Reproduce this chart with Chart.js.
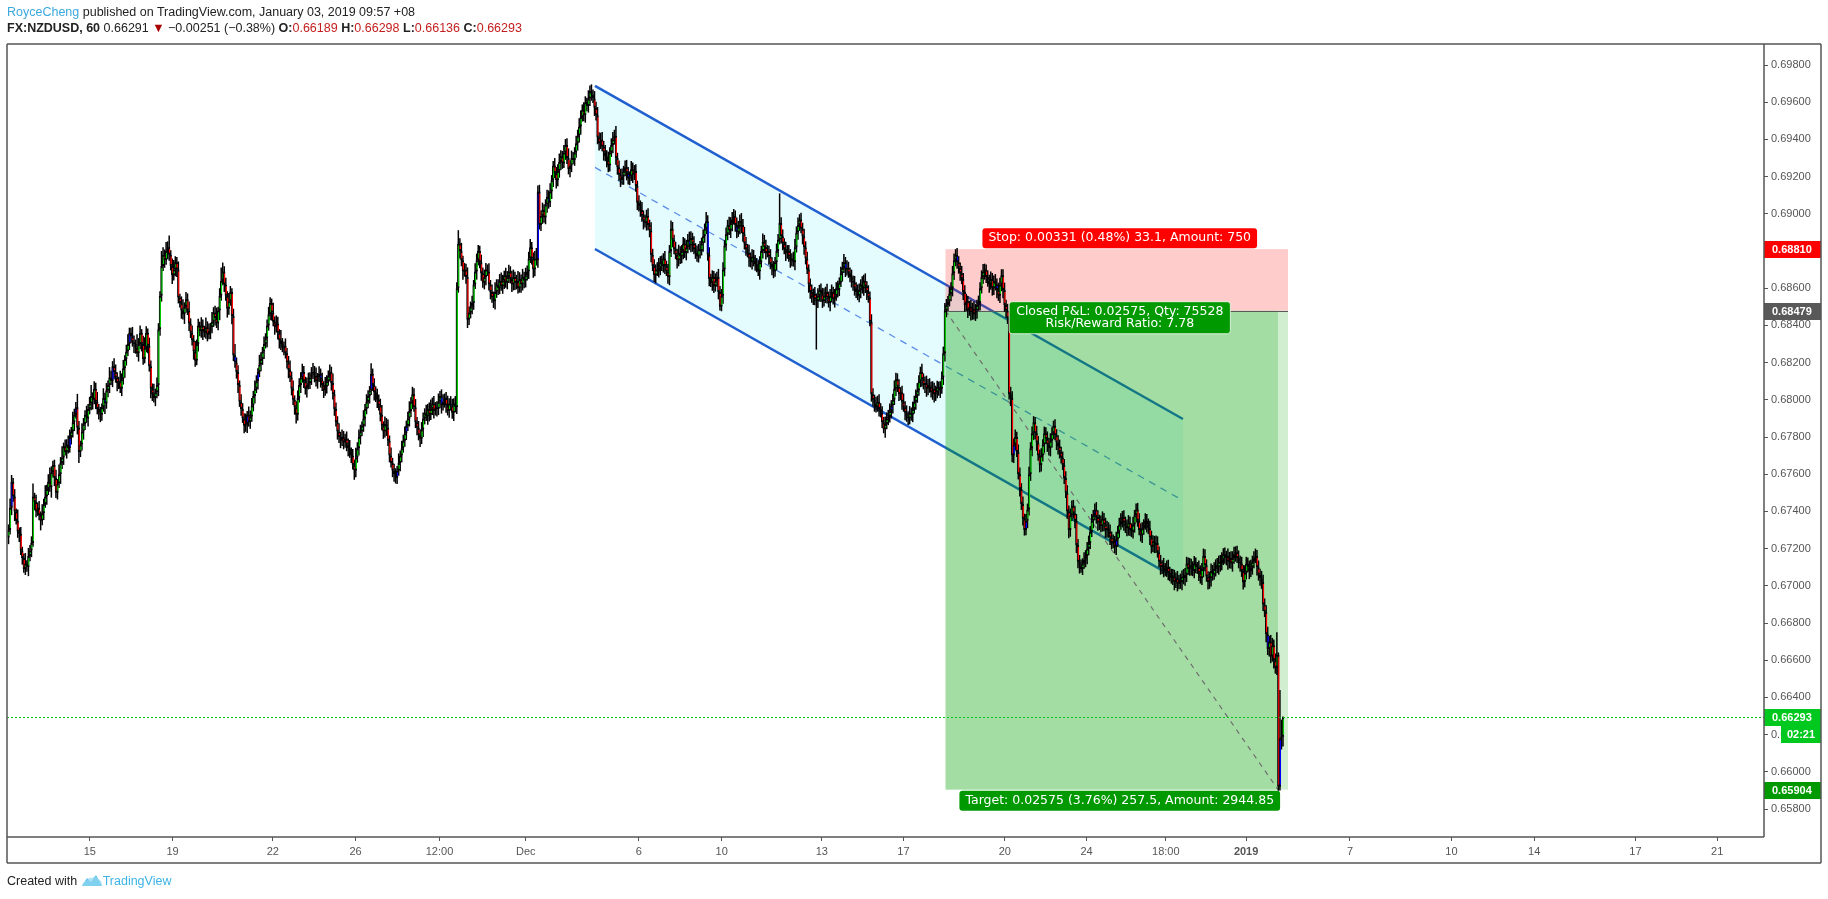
<!DOCTYPE html>
<html><head><meta charset="utf-8">
<script src="https://cdn.jsdelivr.net/npm/chart.js@4.4.1/dist/chart.umd.min.js"></script>
<style>
html,body{margin:0;padding:0;background:#fff;}
#wrap{position:relative;width:1828px;height:899px;overflow:hidden;}
#c{position:absolute;left:0;top:0;}
.hdr{position:absolute;left:7px;font-family:'Liberation Sans',Arial,sans-serif;font-size:12.5px;color:#222;white-space:nowrap;line-height:16px;}
.b{font-weight:bold;}
.r{color:#c41e1e;}
</style>
</head><body><div id="wrap"><canvas id="c"></canvas>
<div class="hdr" style="top:4px"><span style="color:#3aa8de">RoyceCheng</span> published on TradingView.com, January 03, 2019 09:57 +08</div>
<div class="hdr" style="top:20px"><span class="b">FX:NZDUSD, 60</span> 0.66291 <span style="color:#a80000">&#9660;</span> &minus;0.00251 (&minus;0.38%) <span class="b">O:</span><span class="r">0.66189</span> <span class="b">H:</span><span class="r">0.66298</span> <span class="b">L:</span><span class="r">0.66136</span> <span class="b">C:</span><span class="r">0.66293</span></div>
<div class="hdr" style="top:873px;font-size:12.5px">Created with <svg width="22" height="14" viewBox="0 0 22 14" style="vertical-align:-2px"><path d="M1 13 L6 5 L10 9 L15 2 L21 13 Z" fill="#5fc2ec"/><path d="M1 13 Q2 8 6 8 Q7 4 11 5 Q14 2 17 6 Q21 7 21 13 Z" fill="#8fd5f2" opacity="0.7"/></svg><span style="color:#3cb4e6">TradingView</span></div>
</div>
<script>
// ---------- DATA ----------
// closes in points (1 point = 0.00001); wicks in units of 0.00002
const POINT = 1e-5;
const WICK_UNIT = 2e-5;
const firstOpen = 67260;
const closes = [
67300,67420,67560,67480,67400,67350,67290,67280,67190,67150,
67090,67120,67100,67160,67190,67230,67480,67450,67400,67420,
67380,67350,67390,67440,67480,67520,67560,67530,67610,67650,
67580,67500,67550,67600,67660,67690,67750,67720,67760,67740,
67800,67830,67880,67920,67960,67850,67720,67760,67830,67870,
67920,67900,67950,67980,68020,68000,68060,67990,67950,67930,
67920,67960,68010,67980,68050,68080,68120,68100,68180,68150,
68120,68090,68100,68060,68110,68170,68220,68260,68300,68360,
68340,68310,68300,68280,68250,68300,68360,68300,68220,68280,
68360,68290,68180,68060,68030,68010,68040,68080,68380,68560,
68720,68780,68750,68800,68820,68780,68720,68670,68700,68740,
68700,68550,68520,68480,68460,68500,68540,68480,68410,68360,
68320,68260,68210,68300,68400,68370,68400,68370,68360,68390,
68350,68370,68390,68420,68470,68440,68410,68480,68560,68640,
68690,68620,68560,68490,68530,68580,68450,68240,68200,68150,
68080,67990,67950,67900,67860,67870,67920,67880,67910,67970,
68020,68060,68100,68150,68190,68220,68260,68300,68330,68400,
68460,68520,68470,68420,68390,68410,68360,68320,68300,68280,
68290,68250,68200,68160,68120,68060,68000,67960,67920,68010,
68080,68120,68150,68100,68060,68080,68090,68120,68140,68150,
68130,68100,68120,68140,68110,68080,68050,68070,68100,68130,
68150,68090,68030,67950,67880,67830,67800,67780,67800,67770,
67790,67760,67740,67720,67700,67650,67620,67690,67740,67800,
67830,67860,67900,67950,67990,68020,68050,68140,68080,68040,
68020,68000,67970,67920,67860,67830,67870,67850,67780,67700,
67660,67620,67600,67580,67620,67660,67700,67740,67780,67820,
67860,67900,67940,67990,68030,67960,67880,67850,67810,67790,
67840,67900,67930,67910,67950,67920,67950,67980,67940,67960,
67950,67990,68020,67970,67990,68010,67970,67940,67980,67970,
67930,67980,67960,68600,68840,68800,68750,68690,68700,68660,
68430,68470,68500,68520,68620,68690,68750,68800,68740,68680,
68630,68660,68700,68690,68620,68580,68550,68530,68580,68620,
68600,68640,68610,68640,68670,68630,68660,68690,68650,68620,
68660,68630,68640,68600,68650,68620,68660,68640,68670,68690,
68760,68820,68760,68700,68760,68750,69120,68940,68990,69020,
68980,69050,69090,69060,69120,69180,69260,69220,69180,69230,
69280,69310,69270,69330,69370,69300,69240,69260,69300,69290,
69330,69380,69420,69470,69520,69560,69530,69600,69580,69620,
69660,69640,69620,69570,69530,69410,69380,69400,69360,69330,
69310,69290,69260,69330,69370,69400,69420,69300,69250,69210,
69180,69200,69230,69250,69220,69190,69200,69240,69210,69230,
69150,69060,69040,69020,68990,68960,68950,68990,68940,68910,
68780,68720,68670,68700,68690,68710,68740,68720,68760,68720,
68690,68660,68800,68920,68860,68810,68780,68750,68790,68770,
68800,68840,68790,68820,68860,68830,68870,68840,68810,68790,
68770,68810,68800,68840,68880,68920,68960,68780,68650,68630,
68660,68610,68640,68660,68580,68500,68560,68700,68830,68890,
68940,68910,68950,68970,68990,68940,68900,68930,68960,68940,
68890,68840,68810,68790,68760,68740,68770,68750,68730,68710,
68690,68740,68800,68850,68820,68790,68800,68770,68730,68710,
68690,68740,68800,68860,68950,68880,68840,68810,68790,68800,
68770,68750,68760,68740,68820,68900,68940,68970,68920,68880,
68820,68760,68700,68620,68580,68550,68570,68540,68530,68560,
68590,68570,68530,68560,68580,68550,68520,68560,68580,68540,
68560,68600,68590,68630,68680,68710,68740,68700,68710,68680,
68660,68640,68630,68600,68580,68560,68590,68620,68600,68640,
68610,68580,68550,68420,68030,68000,67980,67960,67990,67950,
67930,67880,67840,67870,67900,67910,67940,67970,68000,68060,
68110,68070,68030,68040,67990,67960,67930,67910,67900,67930,
67920,67950,67990,68020,68050,68100,68150,68110,68080,68090,
68060,68080,68070,68040,68060,68030,68040,68070,68050,68060,
68120,68250,68480,68510,68530,68570,68600,68680,68750,68780,
68740,68710,68680,68650,68580,68510,68530,68480,68500,68470,
68490,68460,68480,68510,68520,68600,68660,68690,68700,68660,
68640,68620,68650,68600,68640,68620,68590,68560,68620,68670,
68590,68510,68480,68440,68030,68010,67700,67760,67800,67720,
67600,67520,67440,67360,67300,67350,67410,67600,67740,67820,
67880,67820,67770,67700,67650,67700,67760,67820,67790,67760,
67740,67780,67820,67860,67810,67770,67750,67720,67690,67650,
67580,67500,67400,67300,67380,67430,67390,67350,67220,67130,
67110,67090,67120,67140,67160,67200,67230,67290,67350,67380,
67410,67370,67340,67350,67320,67360,67330,67300,67310,67290,
67260,67230,67240,67210,67250,67290,67330,67350,67370,67340,
67320,67310,67340,67300,67290,67330,67380,67410,67350,67300,
67270,67310,67330,67350,67330,67310,67260,67210,67240,67220,
67230,67180,67130,67100,67110,67090,67080,67100,67070,67060,
67040,67050,67020,67040,67010,67030,67020,67050,67040,67060,
67120,67090,67110,67100,67080,67120,67100,67100,67070,67040,
67090,67160,67110,67050,67020,67040,67080,67060,67090,67110,
67100,67130,67120,67140,67170,67150,67160,67130,67150,67120,
67150,67170,67180,67150,67130,67120,67080,67020,67070,67120,
67100,67080,67100,67130,67150,67160,67100,67060,67040,67020,
66900,66860,66740,66660,66700,66620,66680,66600,66560,66630,
65920,66180,66189,66293
];
const wickUp = [
15,25,18,10,20,8,30,12,18,10, 12,28,9,22,15,18,35,10,20,14, 18,10,24,14,30,12,20,38,16,11, 14,22,12,26,16,30,10,18,14,24,
20,12,28,16,14,36,18,10,22,16, 12,24,14,18,30,10,20,16,26,14, 16,10,26,14,20,12,28,18,14,22, 20,14,12,28,16,22,10,18,26,14,
14,26,18,12,36,16,20,10,22,28, 18,12,22,16,14,28,10,20,16,12, 40,20,14,24,16,32,12,20,26,16, 14,22,10,18,30,12,20,16,24,14,
20,14,28,12,18,10,22,16,14,26, 16,20,12,26,14,18,28,10,20,36, 24,14,18,12,22,16,10,20,30,14, 18,12,20,16,14,28,10,22,16,20,
14,22,16,10,26,18,12,20,14,16, 20,16,12,26,14,22,18,10,28,16, 12,20,14,18,26,16,22,12,16,20, 18,14,22,16,12,20,28,14,18,24,
16,22,12,20,14,18,10,26,16,14, 20,14,26,12,18,16,22,14,20,16, 14,20,16,22,12,18,14,26,16,20, 18,12,22,14,20,16,12,28,14,18,
16,20,14,18,26,12,20,16,22,14, 22,14,18,16,12,26,14,20,16,18, 14,18,26,12,20,16,22,14,18,16, 20,16,12,22,14,18,26,16,20,14,
16,22,14,18,20,12,16,26,14,20, 18,14,20,16,36,14,22,12,18,16, 26,16,14,20,12,22,18,16,14,20, 16,20,18,14,22,12,20,16,26,14,
14,18,22,16,12,20,16,18,14,22, 20,14,16,26,18,12,22,14,20,16, 18,22,14,16,20,28,16,18,14,20, 16,14,20,18,22,14,12,20,16,18,
22,16,14,20,16,18,26,14,20,16, 14,20,16,22,18,14,20,16,12,22, 15,18,14,20,16,22,14,18,20,16, 20,16,22,14,18,20,16,26,14,18,
16,22,14,18,20,16,14,22,18,16, 18,14,20,16,22,14,18,16,20,14, 22,16,18,14,20,26,16,18,14,20, 14,20,16,22,18,14,20,16,22,18,
16,18,14,20,16,22,18,14,20,16, 20,14,22,16,18,14,25,16,20,14, 18,16,20,14,22,16,18,20,14,18, 14,22,16,20,18,14,20,16,18,22,
16,20,18,14,22,16,20,18,14,16, 20,16,14,22,18,20,16,14,20,18, 18,14,20,16,80,16,18,14,20,16, 16,20,14,18,22,16,20,14,18,16,
20,16,18,14,16,20,14,18,16,20, 14,18,16,20,14,22,16,18,20,14, 18,16,20,14,18,16,22,14,20,16, 16,20,14,18,16,20,18,14,22,16,
20,14,18,16,20,16,14,18,16,20, 16,18,14,20,16,18,20,14,16,22, 18,16,20,14,18,22,16,20,14,18, 14,20,16,18,20,16,14,22,16,18,
20,16,18,14,20,16,18,16,14,20, 16,18,20,16,14,18,16,20,18,15, 18,16,14,20,16,18,20,14,16,18, 16,20,18,14,20,16,18,20,16,14,
18,16,20,16,14,18,16,20,18,16, 16,20,14,18,16,20,18,16,20,14, 20,18,16,20,14,18,16,20,16,18, 16,14,20,18,16,20,14,18,16,20,
18,20,16,14,18,16,20,18,14,16, 16,18,20,16,18,14,16,20,18,16, 18,16,14,20,16,18,20,16,18,14, 16,20,18,16,14,20,16,18,20,16,
20,16,18,14,20,16,18,20,16,18, 16,18,20,16,18,20,14,16,18,20, 18,16,14,20,18,16,20,18,16,14, 20,18,16,18,14,20,16,18,20,16,
16,20,18,16,20,14,18,16,20,18, 18,16,20,18,16,20,16,14,18,20, 16,20,18,16,14,18,20,16,18,16, 20,16,18,20,16,18,14,20,16,18,
18,20,16,18,20,16,18,16,20,18, 16,18,20,16,18,20,16,18,16,20, 20,16,18,20,16,18,20,16,18,60,
6,130,45.5,2.5
];
const wickDn = [
18,12,20,14,26,10,16,22,12,18, 10,16,12,24,14,18,10,22,16,12, 14,26,12,18,10,22,16,12,28,14, 22,14,18,12,26,16,20,10,18,14,
12,20,16,24,10,18,30,14,16,22, 16,12,22,14,18,26,12,20,14,18, 20,16,12,28,14,18,22,10,16,20, 14,22,16,12,20,14,26,18,12,16,
18,12,24,16,10,22,14,20,16,12, 12,20,14,26,18,12,22,16,30,18, 16,14,20,12,22,16,12,24,14,18, 20,16,12,22,14,26,16,12,20,14,
14,22,16,12,20,14,18,24,12,16, 18,12,22,16,14,20,12,18,26,14, 12,20,14,24,16,12,22,16,14,18, 22,14,18,12,20,16,24,12,18,14,
16,20,12,22,14,18,16,20,12,24, 14,16,22,12,20,14,18,22,16,12, 20,14,16,22,12,18,14,20,24,16, 12,22,14,18,16,24,12,16,20,14,
18,14,20,12,22,16,20,14,18,12, 16,20,14,18,12,22,16,20,14,18, 14,18,22,16,20,12,25,18,14,20, 20,12,16,22,14,18,20,12,16,22,
16,22,14,18,12,20,16,22,14,18, 12,18,20,15,16,14,22,18,12,16, 18,14,22,16,20,12,16,20,14,22, 14,20,16,12,22,18,14,16,20,12,
20,16,18,22,14,16,20,12,18,14, 16,22,14,18,12,20,16,22,14,18, 22,14,16,20,18,12,22,14,16,20, 14,18,22,12,16,20,14,18,22,16,
18,16,12,20,22,14,18,16,12,20, 16,20,18,14,12,22,16,20,18,14, 20,12,16,22,18,14,20,12,16,22, 14,18,22,16,12,20,18,14,22,16,
18,22,14,12,20,16,14,22,18,12, 16,14,20,18,22,12,16,20,14,18, 20,16,12,22,14,18,20,16,12,22, 14,20,18,16,12,22,14,18,20,16,
18,12,22,14,20,16,18,12,22,14, 16,20,14,18,16,22,12,20,14,18, 20,14,18,22,12,16,20,14,18,22, 12,18,22,16,20,14,12,22,16,20,
18,22,14,20,16,12,18,22,14,16, 14,16,20,12,22,18,14,16,20,12, 22,18,14,16,20,10,12,22,18,14, 16,12,20,22,14,18,16,12,20,22,
20,16,18,12,22,14,20,16,18,12, 12,22,14,20,16,18,12,22,14,20, 18,14,22,16,12,20,18,14,22,16, 14,20,16,12,22,14,20,16,12,22,
20,16,12,22,18,14,20,16,130,18, 16,22,18,14,20,16,12,22,18,14, 22,14,20,16,12,22,14,20,16,12, 14,18,22,20,16,12,18,22,14,20,
18,22,14,12,20,18,22,14,12,20, 12,16,10,22,14,18,16,20,22,14, 20,14,18,16,22,12,20,14,18,16, 16,20,12,22,18,14,16,20,12,22,
22,18,16,14,20,22,18,16,14,20, 14,20,22,18,16,14,20,22,18,16, 18,16,20,14,22,18,16,20,14,22, 20,14,18,22,16,20,14,18,22,16,
16,22,14,20,18,16,22,14,20,18, 22,18,20,16,14,22,18,20,16,14, 14,20,16,18,15,14,20,16,18,22, 18,16,22,14,20,18,16,22,14,20,
20,22,18,16,14,20,22,18,16,14, 16,14,20,22,18,16,14,20,22,18, 22,10,16,14,20,22,18,16,14,20, 14,18,22,20,16,14,18,22,20,16,
20,16,14,18,22,20,16,14,18,22, 18,22,20,16,14,18,22,20,16,14, 16,20,18,14,22,16,20,18,14,22, 22,14,16,20,18,22,14,16,20,18,
14,18,22,16,20,14,18,22,16,20, 20,16,18,22,14,20,16,18,22,14, 18,22,16,14,20,18,22,16,14,20, 16,20,22,18,14,16,20,22,18,14,
22,16,20,14,18,22,16,20,14,18, 14,22,16,20,18,14,22,16,20,18, 18,14,22,16,20,18,14,22,16,20,
11,10,30,26.5
];
const blueBars = [3,41,45,64,69,80,129,149,157,164,193,205,225,238,242,255,261,284,347,354,382,391,406,446,458,477,513,529,548,578,603,621,647,658,666,711,725,758,762,788,824,832];
const priceTicks = [0.658,0.660,0.662,0.664,0.666,0.668,0.670,0.672,0.674,0.676,0.678,0.680,0.682,0.684,0.686,0.688,0.690,0.692,0.694,0.696,0.698];
const timeTickPos = [54.1,108.2,173.7,227.8,282.7,339.1,413.0,467.1,532.6,585.9,652.2,705.6,757.4,809.9,877.8,944.1,998.2,1064.4,1117.8];
const timeTickLabels = ['15','19','22','26','12:00','Dec','6','10','13','17','20','24','18:00','2019','7','10','14','17','21'];
const channelTop = [384.3, 0.69688, 768.6, 0.67897];
const channelBottom = [384.3, 0.68811, 768.6, 0.67020];
const entryPrice = 0.68479, stopPrice = 0.68810, targetPrice = 0.65904, lastPrice = 0.66293;
const positionBars = [613.4, 830.8, 837.3];
const stopText = 'Stop: 0.00331 (0.48%) 33.1, Amount: 750';
const pnlText = ['Closed P&L: 0.02575, Qty: 75528', 'Risk/Reward Ratio: 7.78'];
const targetText = 'Target: 0.02575 (3.76%) 257.5, Amount: 2944.85';
const countdownText = '02:21';

// ---------- build candles ----------
const wickSet = [], bodySet = [], bodyColors = [];
for (let i = 0; i < closes.length; i++) {
  const o = (i === 0 ? firstOpen : closes[i - 1]) * POINT;
  const c = closes[i] * POINT;
  const top = Math.max(o, c), bot = Math.min(o, c);
  wickSet.push({x: i + 1, y: [bot - wickDn[i] * WICK_UNIT, top + wickUp[i] * WICK_UNIT]});
  bodySet.push({x: i + 1, y: [bot, top]});
  bodyColors.push(blueBars.includes(i + 1) ? '#0000ff' : (c >= o ? '#00c800' : '#ff0000'));
}

function roundRect(ctx, x, y, w, h, r) {
  ctx.beginPath();
  ctx.moveTo(x + r, y); ctx.lineTo(x + w - r, y); ctx.quadraticCurveTo(x + w, y, x + w, y + r);
  ctx.lineTo(x + w, y + h - r); ctx.quadraticCurveTo(x + w, y + h, x + w - r, y + h);
  ctx.lineTo(x + r, y + h); ctx.quadraticCurveTo(x, y + h, x, y + h - r);
  ctx.lineTo(x, y + r); ctx.quadraticCurveTo(x, y, x + r, y); ctx.closePath();
}

const LABEL_FONT = '12.5px "DejaVu Sans", Verdana, sans-serif';

const drawings = {
  id: 'drawings',
  beforeDatasetsDraw(chart) {
    const {ctx, chartArea: a, scales: {x, y}} = chart;
    const X = v => x.getPixelForValue(v), Y = p => y.getPixelForValue(p);
    ctx.save();
    ctx.beginPath(); ctx.rect(a.left, a.top, a.right - a.left, a.bottom - a.top); ctx.clip();
    const t = channelTop, b = channelBottom;
    ctx.fillStyle = 'rgba(0,229,255,0.10)';
    ctx.beginPath();
    ctx.moveTo(X(t[0]), Y(t[1])); ctx.lineTo(X(t[2]), Y(t[3]));
    ctx.lineTo(X(b[2]), Y(b[3])); ctx.lineTo(X(b[0]), Y(b[1])); ctx.closePath(); ctx.fill();
    ctx.strokeStyle = '#5b8de6'; ctx.lineWidth = 1.3; ctx.setLineDash([7, 6]);
    ctx.beginPath();
    ctx.moveTo(X(t[0]), Y((t[1] + b[1]) / 2)); ctx.lineTo(X(t[2]), Y((t[3] + b[3]) / 2)); ctx.stroke();
    ctx.setLineDash([]);
    ctx.strokeStyle = '#1f5fcf'; ctx.lineWidth = 2.5;
    ctx.beginPath(); ctx.moveTo(X(t[0]), Y(t[1])); ctx.lineTo(X(t[2]), Y(t[3])); ctx.stroke();
    ctx.beginPath(); ctx.moveTo(X(b[0]), Y(b[1])); ctx.lineTo(X(b[2]), Y(b[3])); ctx.stroke();
    const x0 = X(positionBars[0]), x1 = X(positionBars[1]), x2 = X(positionBars[2]);
    ctx.fillStyle = 'rgba(255,0,0,0.20)';
    ctx.fillRect(x0, Y(stopPrice), x2 - x0, Y(entryPrice) - Y(stopPrice));
    ctx.fillStyle = 'rgba(0,160,0,0.36)';
    ctx.fillRect(x0, Y(entryPrice), x1 - x0, Y(targetPrice) - Y(entryPrice));
    ctx.fillStyle = 'rgba(0,160,0,0.18)';
    ctx.fillRect(x1, Y(entryPrice), x2 - x1, Y(targetPrice) - Y(entryPrice));
    ctx.strokeStyle = '#5a5a5a'; ctx.lineWidth = 1;
    ctx.beginPath(); ctx.moveTo(x0, Math.round(Y(entryPrice)) + 0.5); ctx.lineTo(x2, Math.round(Y(entryPrice)) + 0.5); ctx.stroke();
    ctx.strokeStyle = '#6e6e6e'; ctx.lineWidth = 1.2; ctx.setLineDash([5, 5]);
    ctx.beginPath(); ctx.moveTo(x0, Y(entryPrice)); ctx.lineTo(x1, Y(targetPrice)); ctx.stroke();
    ctx.setLineDash([]);
    ctx.restore();
  },
  afterDatasetsDraw(chart) {
    const {ctx, chartArea: a, scales: {x, y}} = chart;
    const X = v => x.getPixelForValue(v), Y = p => y.getPixelForValue(p);
    ctx.save();
    ctx.strokeStyle = '#00c81e'; ctx.lineWidth = 1; ctx.setLineDash([2, 2]);
    const yl = Math.round(Y(lastPrice)) + 0.5;
    ctx.beginPath(); ctx.moveTo(a.left, yl); ctx.lineTo(a.right, yl); ctx.stroke();
    ctx.setLineDash([]);
    const x0 = X(positionBars[0]), x2 = X(positionBars[2]);
    const cx = (x0 + x2) / 2 + 3;
    ctx.font = LABEL_FONT;
    ctx.textAlign = 'center'; ctx.textBaseline = 'middle';
    let w = ctx.measureText(stopText).width + 12;
    let yb = Y(stopPrice) - 1;
    ctx.fillStyle = '#ff0000'; roundRect(ctx, cx - w / 2, yb - 20, w, 20, 3); ctx.fill();
    ctx.fillStyle = '#fff'; ctx.fillText(stopText, cx, yb - 10);
    w = Math.max(ctx.measureText(pnlText[0]).width, ctx.measureText(pnlText[1]).width) + 14;
    let yt = Y(entryPrice) - 9;
    ctx.fillStyle = '#009900'; roundRect(ctx, cx - w / 2, yt, w, 32, 3); ctx.fill();
    ctx.strokeStyle = 'rgba(255,255,255,0.75)'; ctx.lineWidth = 1; ctx.stroke();
    ctx.fillStyle = '#fff'; ctx.fillText(pnlText[0], cx, yt + 10); ctx.fillText(pnlText[1], cx, yt + 22.5);
    w = ctx.measureText(targetText).width + 12;
    yt = Y(targetPrice) + 1;
    ctx.fillStyle = '#009900'; roundRect(ctx, cx - w / 2, yt, w, 20, 3); ctx.fill();
    ctx.fillStyle = '#fff'; ctx.fillText(targetText, cx, yt + 10);
    ctx.restore();
  },
  afterDraw(chart) {
    const {ctx, chartArea: a, scales: {y}} = chart;
    const Y = p => y.getPixelForValue(p);
    const axR = a.right + 57;
    ctx.save();
    const boxes = [[stopPrice, '#ff0000'], [entryPrice, '#595959'], [lastPrice, '#00c81e'], [targetPrice, '#009900']];
    ctx.font = 'bold 11px "Liberation Sans", Arial, sans-serif';
    ctx.textAlign = 'left'; ctx.textBaseline = 'middle';
    for (const [p, col] of boxes) {
      const yc = Math.round(Y(p));
      ctx.fillStyle = col; ctx.fillRect(a.right, yc - 8, 57, 17);
      ctx.fillStyle = '#fff'; ctx.fillText(p.toFixed(5), a.right + 8, yc + 0.5);
    }
    const yc = Math.round(Y(lastPrice));
    ctx.fillStyle = '#00c81e'; ctx.fillRect(a.right + 17, yc + 9, 40, 17);
    ctx.fillStyle = '#fff'; ctx.textAlign = 'center'; ctx.fillText(countdownText, a.right + 37, yc + 17.5);
    ctx.strokeStyle = '#555'; ctx.lineWidth = 1.5;
    const L = a.left, T = a.top, R = a.right, B = a.bottom, OB = B + 26;
    ctx.beginPath();
    ctx.moveTo(L, T); ctx.lineTo(axR, T);
    ctx.moveTo(L, T); ctx.lineTo(L, OB);
    ctx.moveTo(L, B); ctx.lineTo(R, B);
    ctx.moveTo(R, T); ctx.lineTo(R, B);
    ctx.moveTo(axR, T); ctx.lineTo(axR, OB);
    ctx.moveTo(L, OB); ctx.lineTo(axR, OB);
    ctx.stroke();
    ctx.restore();
  }
};

new Chart(document.getElementById('c'), {
  type: 'bar',
  data: {
    datasets: [
      {label: 'body', data: bodySet, backgroundColor: bodyColors, borderColor: '#000000',
       borderWidth: {left: 1, right: 0, top: 2, bottom: 2}, borderSkipped: false, inflateAmount: 0,
       barThickness: 2.4, grouped: false, minBarLength: 1, order: 0},
      {label: 'wick', data: wickSet, backgroundColor: '#000000', barThickness: 1.5, inflateAmount: 0, grouped: false, order: 1}
    ]
  },
  options: {
    responsive: true, maintainAspectRatio: false, animation: false, events: [],
    layout: {padding: {left: 7, top: 44, right: 7, bottom: 36}},
    plugins: {legend: {display: false}, tooltip: {enabled: false}},
    scales: {
      x: {
        type: 'linear', min: 0, max: 1148.4, offset: false, position: 'bottom',
        afterBuildTicks: s => { s.ticks = timeTickPos.map(v => ({value: v})); },
        afterFit: s => { s.height = 26; },
        ticks: {
          autoSkip: false, maxRotation: 0, color: '#555', padding: 4,
          font: c => ({family: '"Liberation Sans", Arial, sans-serif', size: 11, weight: timeTickLabels[c.index] === '2019' ? 'bold' : 'normal'}),
          callback: (v, i) => timeTickLabels[i]
        },
        grid: {drawOnChartArea: false, drawTicks: true, tickLength: 4, color: '#555', offset: false},
        border: {display: false}
      },
      y: {
        type: 'linear', position: 'right', min: 0.656495, max: 0.69913,
        afterBuildTicks: s => { s.ticks = priceTicks.map(v => ({value: v})); },
        afterFit: s => { s.width = 57; },
        ticks: {color: '#555', padding: 3, font: {family: '"Liberation Sans", Arial, sans-serif', size: 11}, callback: v => v.toFixed(5)},
        grid: {drawOnChartArea: false, drawTicks: true, tickLength: 4, color: '#555'},
        border: {display: false}
      }
    }
  },
  plugins: [drawings]
});
</script>
</body></html>
